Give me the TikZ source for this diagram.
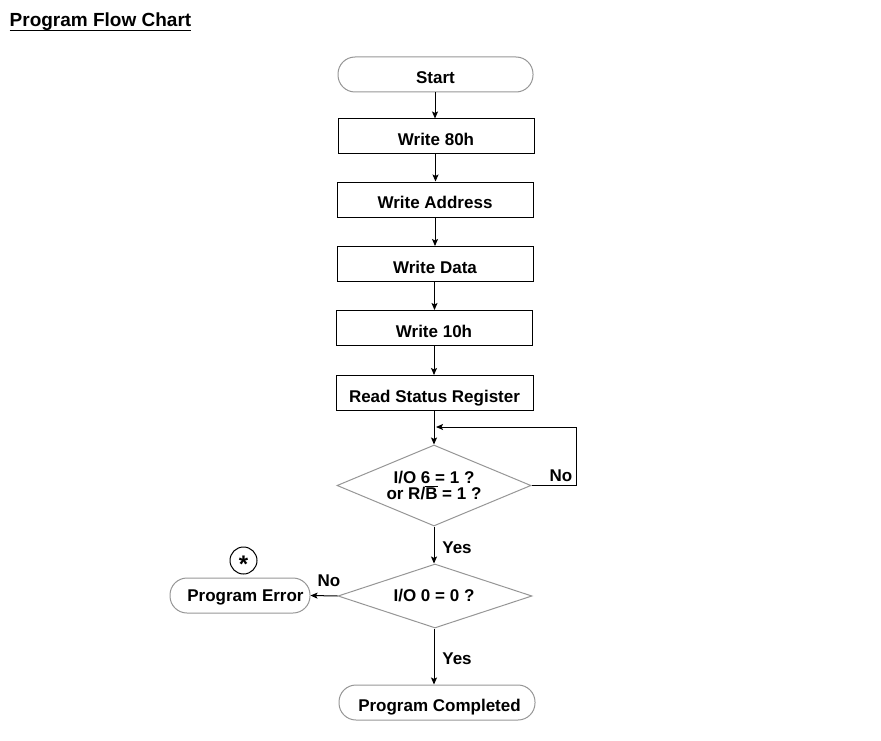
\documentclass[tikz,border=0pt]{standalone}
\usepackage{fontspec}
\setmainfont{Liberation Sans}
\usetikzlibrary{arrows.meta,shapes.geometric,calc}
\definecolor{edgegray}{RGB}{150,150,150}
\begin{document}
\begin{tikzpicture}[x=1pt,y=-1pt,
  font=\fontsize{17}{19}\selectfont\bfseries,
  arr/.style={draw=black,line width=1pt,-{Stealth[length=7pt,width=6pt,inset=1.5pt]}},
  shifted/.style={text height=18pt,text depth=0pt},
  procbox/.style={draw=black,line width=1pt,rectangle,minimum width=196pt,minimum height=35pt,inner sep=0pt,shifted},
  termbox/.style={draw=edgegray,line width=1pt,rectangle,rounded corners=17pt,minimum height=35pt,inner sep=0pt},
  decbox/.style={draw=edgegray,line width=1pt,diamond,inner sep=0pt,minimum width=194pt},
  lbl/.style={inner sep=0pt,anchor=base}]
\path[use as bounding box] (0,0) rectangle (881,741);
\node[lbl,anchor=base west,font=\fontsize{19}{22}\selectfont\bfseries] (title) at (9.5,27) {Program Flow Chart};
\draw[line width=1.8pt] ($(title.base west)+(0,3.5)$) -- ($(title.base east)+(0,3.5)$);

\node[termbox,shifted,minimum width=195pt] (start) at (435.5,74.5) {Start};
\node[procbox] (w80) at (436,136.5) {Write 80h};
\node[procbox] (wad) at (435,199.5) {Write Address};
\node[procbox] (wda) at (435,264) {Write Data};
\node[procbox] (w10) at (434,328) {Write 10h};
\node[procbox,minimum width=197pt] (rsr) at (434.5,393) {Read Status Register};

\node[decbox,minimum height=81pt] (d1) at (434,485.5) {};
\node[lbl] (d1a) at (434,483) {I/O 6 = 1 ?};
\node[lbl] (d1b) at (434,499.5) {or R/$\overline{\mbox{B}}$ = 1 ?};
\node[decbox,minimum height=64pt] (d2) at (435,596) {};
\node[lbl] (d2t) at (434,601) {I/O 0 = 0 ?};

\node[termbox,minimum width=140pt] (err) at (240,595.5) {};
\node[lbl] (errt) at (245.5,601) {Program Error};
\node[draw=black,line width=1pt,circle,minimum size=27pt,inner sep=0pt] (star) at (243.5,560.5) {};
\node[lbl,font=\fontsize{24}{24}\selectfont\bfseries] (start2) at (243.5,572) {*};
\node[termbox,minimum width=196pt] (done) at (437,702.5) {};
\node[lbl] (donet) at (439.5,711) {Program Completed};

\draw[arr] (start.south -| 435,0) -- (w80.north -| 435,0);
\draw[arr] (w80.south -| 435.5,0) -- (wad.north -| 435.5,0);
\draw[arr] (wad) -- (wda);
\draw[arr] (wda.south -| 434.5,0) -- (w10.north -| 434.5,0);
\draw[arr] (w10.south -| 434,0) -- (rsr.north -| 434,0);
\draw[arr] (rsr.south -| d1.north) -- (d1.north);
\coordinate (loopin) at (436,427);
\draw[arr] (d1.east) -- ++(45,0) coordinate (loopc) |- (loopin);
\node[lbl] (no1) at (561,481) {No};
\draw[arr] (d1.south) -- (d2.north -| d1.south);
\node[lbl] (yes1) at (457,553) {Yes};
\draw[arr] (d2.west) -- (err.east);
\node[lbl] (no2) at (329,586) {No};
\draw[arr] (d2.south -| d1.south) -- (done.north -| d1.south);
\node[lbl] (yes2) at (457,664) {Yes};
\end{tikzpicture}
\end{document}
